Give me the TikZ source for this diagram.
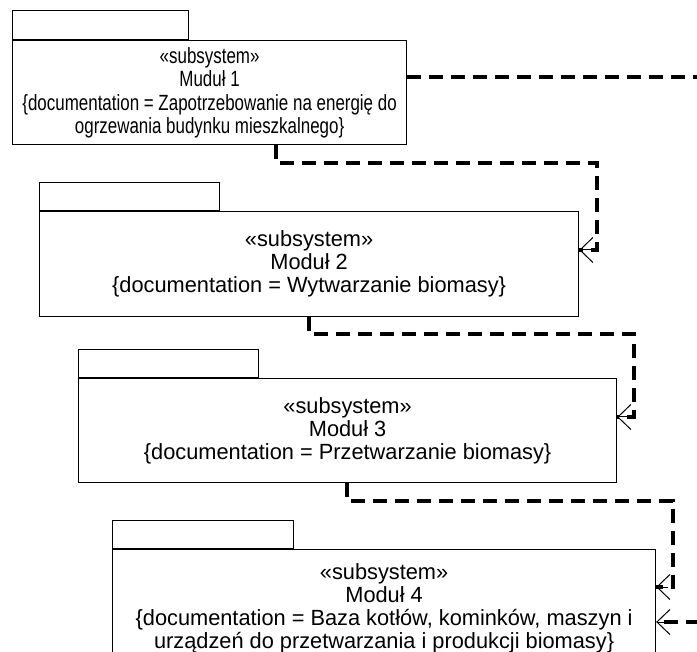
\documentclass[tikz,border=0pt]{standalone}
\usepackage{fontspec}
\setmainfont{Liberation Sans}
\newfontfamily\modwide[FakeStretch=0.99]{Liberation Sans}
\newfontfamily\modnarrow[FakeStretch=0.77]{Liberation Sans}
\usetikzlibrary{arrows.meta}
\tikzset{
  body/.style={draw, line width=1.2pt, rectangle, anchor=north west, inner sep=0pt, align=center},
  tabbox/.style={draw, line width=1.2pt, rectangle, anchor=south west, inner sep=0pt},
  wide/.style={font=\modwide\fontsize{22}{23}\selectfont},
  narrow/.style={font=\modnarrow\fontsize{22}{23.5}\selectfont},
  conn/.style={line width=3.2pt, dash pattern=on 14pt off 8pt},
  tiphead/.style={line width=1pt, -{Straight Barb[length=13pt, width=25pt]}},
}
\begin{document}
\begin{tikzpicture}[x=1pt, y=-1pt]
\useasboundingbox (0,0) rectangle (697,652);
% Module 1
\node[body, narrow, minimum width=394pt, minimum height=104pt] (m1) at (12,40)
  {«subsystem»\\Muduł 1\\\{documentation = Zapotrzebowanie na energię do\\ogrzewania budynku mieszkalnego\}};
\node[tabbox, minimum width=176pt, minimum height=29pt] (t1) at (m1.north west) {};
% Module 2
\node[body, wide, minimum width=539pt, minimum height=105pt] (m2) at (39,211)
  {«subsystem»\\Moduł 2\\\{documentation = Wytwarzanie biomasy\}};
\node[tabbox, minimum width=180pt, minimum height=28pt] (t2) at (m2.north west) {};
% Module 3
\node[body, wide, minimum width=538pt, minimum height=104pt] (m3) at (78,378)
  {«subsystem»\\Moduł 3\\\{documentation = Przetwarzanie biomasy\}};
\node[tabbox, minimum width=180pt, minimum height=28pt] (t3) at (m3.north west) {};
% Module 4
\node[body, wide, minimum width=543pt, minimum height=117pt] (m4) at (112,549)
  {«subsystem»\\Moduł 4\\\{documentation = Baza kotłów, kominków, maszyn i\\urządzeń do przetwarzania i produkcji biomasy\}};
\node[tabbox, minimum width=181pt, minimum height=28pt] (t4) at (m4.north west) {};
% elbows, arrow ends and free ends
\coordinate (e12) at (597,163);
\coordinate (e23) at (634,334);
\coordinate (e34) at (673,501);
\coordinate (out1) at (700,77);
\coordinate (in4) at (700,622);
\coordinate (a2) at (m2.east |- 0,250);
\coordinate (a3) at (m3.east |- 0,417);
\coordinate (a4) at (m4.east |- 0,587);
\coordinate (b4) at (m4.east |- in4);
% connectors
\draw[conn] (m1.east |- out1) -- (out1);
\draw[conn] ([xshift=264pt]m1.south west) |- (e12) |- (a2);
\draw[tiphead] ([xshift=12pt]a2) -- (a2);
\draw[conn] ([xshift=270pt]m2.south west) |- (e23) |- (a3);
\draw[tiphead] ([xshift=12pt]a3) -- (a3);
\draw[conn] ([xshift=269pt]m3.south west) |- (e34) |- (a4);
\draw[tiphead] ([xshift=12pt]a4) -- (a4);
\draw[conn] (in4) -- (b4);
\draw[tiphead] ([xshift=12pt]b4) -- (b4);
\end{tikzpicture}
\end{document}
